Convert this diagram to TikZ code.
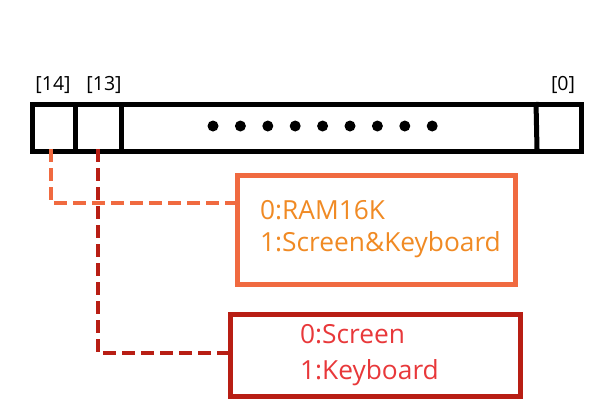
\documentclass[tikz,border=0pt]{standalone}
\usepackage{fontspec}
\setmainfont{Open Sans}
\definecolor{orstroke}{HTML}{F06A40}
\definecolor{ortext}{HTML}{F08A24}
\definecolor{rdstroke}{HTML}{B81E14}
\definecolor{rdtext}{HTML}{E8383A}
\begin{document}
\begin{tikzpicture}[x=1pt,y=-1pt,
  reg/.style={draw=black,line width=5pt},
  bitlabel/.style={font=\fontsize{19.5}{22}\selectfont,anchor=base},
  conn/.style={line width=4.5pt,dash pattern=on 13pt off 6pt},
  infobox/.style={line width=5pt,inner sep=0pt},
  boxtext/.style={anchor=base west,font=\fontsize{26.3}{33}\selectfont,inner sep=0pt}]
\useasboundingbox (0,0) rectangle (600,400);
% register
\node[reg,minimum width=549pt,minimum height=47pt,anchor=north west,inner sep=0pt] (regbox) at (30,102) {};
\draw[reg] (75,102) -- (75,149);
\draw[reg] (121,102) -- (121,149);
\draw[reg] (536,102) -- (537,149);
\node[bitlabel] (l14) at (53,90) {[14]};
\node[bitlabel] (l13) at (104,90) {[13]};
\node[bitlabel] (l0) at (563,90) {[0]};
\foreach \i in {0,...,8}{\fill (213+27.4*\i,126) circle (5.5pt);}
\coordinate (b14) at (51,149);
\coordinate (b13) at (98,149);
% orange box
\node[infobox,draw=orstroke,minimum width=278pt,minimum height=109pt,anchor=north west] (obox) at (235,173) {};
\node[boxtext,text=ortext] (ot1) at (260,219) {0:RAM16K};
\node[boxtext,text=ortext] (ot2) at (260,251) {1:Screen\&Keyboard};
% red box
\node[infobox,draw=rdstroke,minimum width=290pt,minimum height=82pt,anchor=north west] (rbox) at (228,312) {};
\node[boxtext,text=rdtext] (rt1) at (300,343) {0:Screen};
\node[boxtext,text=rdtext] (rt2) at (300,379) {1:Keyboard};
% connectors
\draw[conn,draw=orstroke] (b14) |- (obox.west |- 0,203);
\draw[conn,draw=rdstroke] (b13) |- (rbox.west |- 0,353);
\end{tikzpicture}
\end{document}
